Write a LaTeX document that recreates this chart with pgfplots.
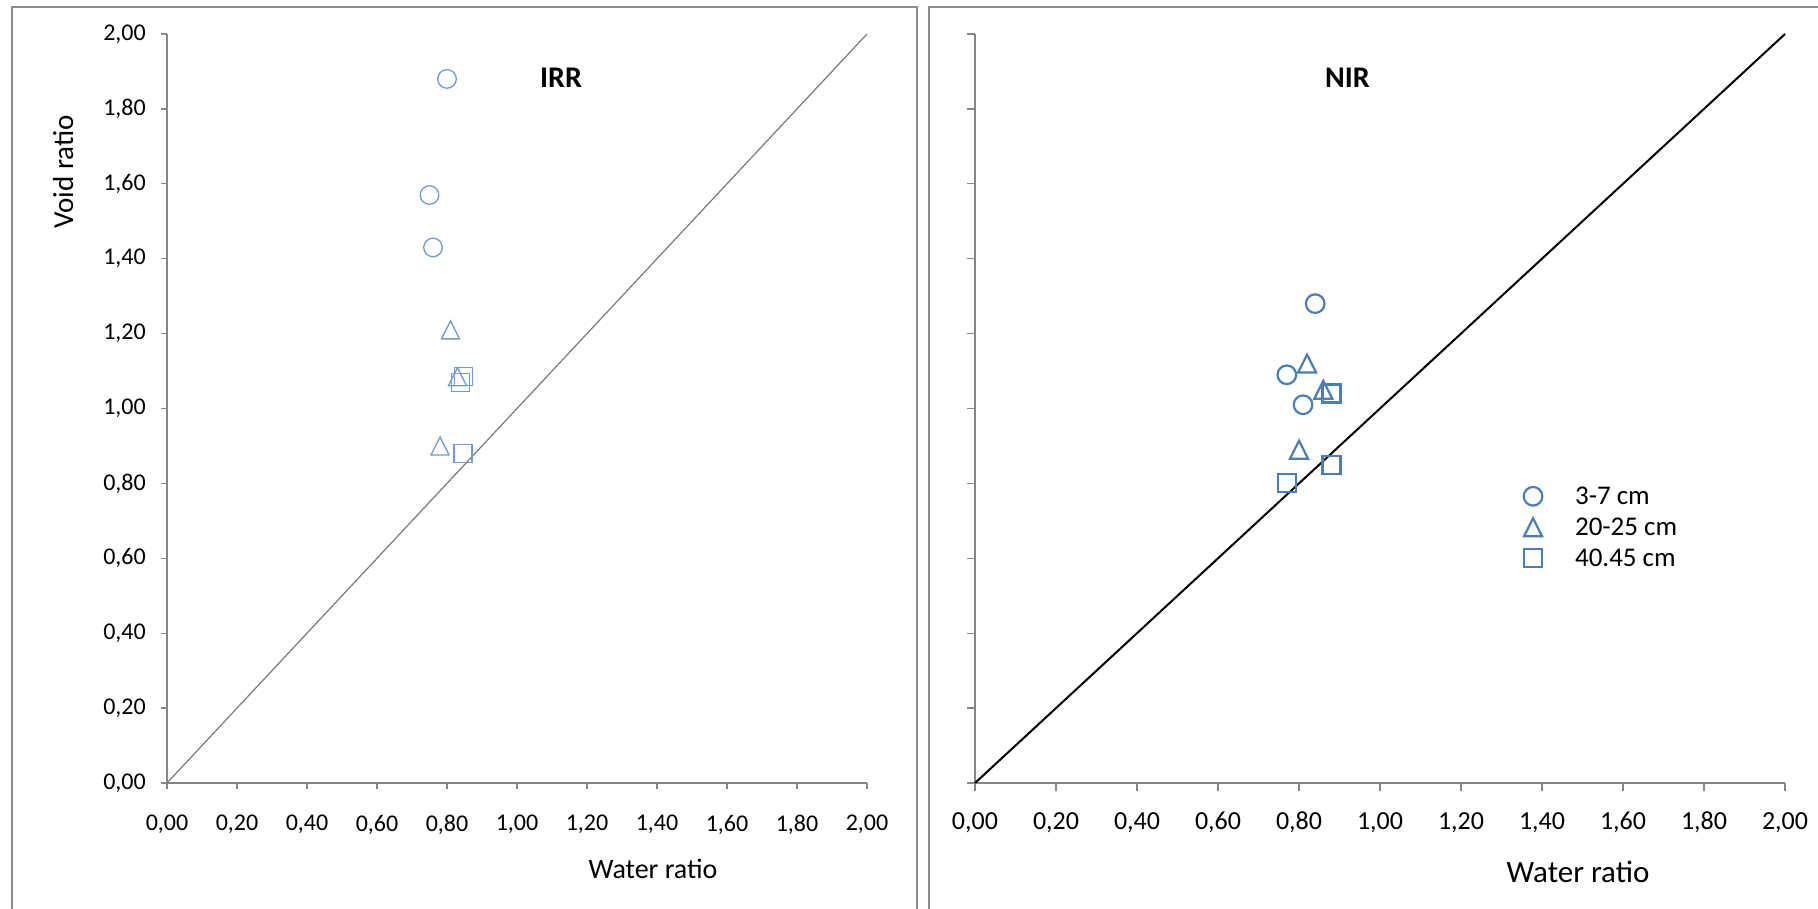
\documentclass[border=0pt]{standalone}
\usepackage{pgfplots}
\pgfplotsset{compat=1.18}
\usepackage{fontspec}
\setmainfont{Carlito}
\definecolor{framegray}{HTML}{8C8C8C}
\definecolor{axgray}{HTML}{868686}
\definecolor{mkL}{HTML}{6F9AD3}
\definecolor{mkR}{HTML}{4A7EBB}

\pgfdeclareplotmark{xtri}{%
  \pgfpathmoveto{\pgfqpoint{0pt}{9pt}}%
  \pgfpathlineto{\pgfqpoint{-9pt}{-9pt}}%
  \pgfpathlineto{\pgfqpoint{9pt}{-9pt}}%
  \pgfpathclose\pgfusepathqstroke}
\pgfdeclareplotmark{xsq}{%
  \pgfpathrectangle{\pgfqpoint{-9pt}{-9pt}}{\pgfqpoint{18pt}{18pt}}\pgfusepathqstroke}
\pgfdeclareplotmark{xcirc}{%
  \pgfpathcircle{\pgfpointorigin}{9.3pt}\pgfusepathqstroke}

\pgfplotsset{
  excel/.style={
    scale only axis, xmin=0, xmax=2, ymin=0, ymax=2,
    axis lines=left, axis line style={-, axgray, line width=1.3pt},
    xtick={0,0.2,0.4,0.6,0.8,1,1.2,1.4,1.6,1.8,2},
    ytick={0,0.2,0.4,0.6,0.8,1,1.2,1.4,1.6,1.8,2},
    tick align=outside,
    tick style={axgray, line width=1.3pt},
    /pgf/number format/fixed,
    /pgf/number format/fixed zerofill,
    /pgf/number format/precision=2,
    /pgf/number format/use comma,
    /pgf/number format/assume math mode=true,
    tick label style={inner sep=0pt},
    clip=false,
  },
  mk/.style={only marks, mark=#1,
    legend image code/.code={\draw[##1] plot coordinates {(0pt,0pt)};
      \pgfpathmoveto{\pgfqpoint{-10.5pt}{0pt}}\pgfpathlineto{\pgfqpoint{42pt}{0pt}}\pgfusepath{}}},
}

\begin{document}
\begin{tikzpicture}[x=1pt,y=1pt]
\useasboundingbox (0,0) rectangle (1818,908);
\clip (0,0) rectangle (1818,908);
% chart frames
\draw[framegray, line width=2.5pt] (12,-20) -- (12,901) -- (917,901) -- (917,-20);
\draw[framegray, line width=2.5pt] (929,-20) -- (929,901) -- (1840,901);

% ---------- left panel (IRR)
\begin{axis}[excel, at={(167pt,125pt)}, anchor=south west,
  width=700pt, height=749pt,
  major tick length=6pt,
  tick label style={font=\fontsize{24}{26}\selectfont},
  xticklabel shift=26pt, yticklabel shift=15pt]
\addplot[mk=xcirc, mkL, line width=1.3pt] coordinates {(0.80,1.88) (0.75,1.57) (0.76,1.43)};
\addplot[mk=xtri, mkL, line width=1.3pt] coordinates {(0.81,1.21) (0.83,1.085) (0.78,0.90)};
\addplot[mk=xsq, mkL, line width=1.3pt] coordinates {(0.847,1.085) (0.839,1.069) (0.846,0.879)};
\addplot[axgray!90!black, line width=1.2pt, forget plot] coordinates {(0,0) (2,2)};
\end{axis}

% ---------- right panel (NIR)
\begin{axis}[excel, at={(975pt,125pt)}, anchor=south west,
  width=810pt, height=749pt,
  major tick length=8pt,
  tick label style={font=\fontsize{26}{28}\selectfont},
  xticklabel shift=21pt, yticklabels={},
  legend style={draw=none, fill=none, inner sep=0pt, outer sep=0pt,
    at={(axis cs:1.352,0.791)}, anchor=north west,
    font=\fontsize{27}{29}\selectfont,
    nodes={inner sep=0pt}, row sep=12pt, column sep=0pt},
  legend cell align=left]
\addplot[mk=xcirc, mkR, line width=2.2pt] coordinates {(0.84,1.28) (0.77,1.09) (0.81,1.01)};
\addlegendentry{3-7 cm}
\addplot[mk=xtri, mkR, line width=2.2pt] coordinates {(0.82,1.12) (0.86,1.05) (0.80,0.89)};
\addlegendentry{20-25 cm}
\addplot[mk=xsq, mkR, line width=2.2pt] coordinates {(0.88,1.04) (0.88,0.85) (0.77,0.80)};
\addlegendentry{40.45 cm}
\addplot[black, line width=2pt, forget plot] coordinates {(0,0) (2,2)};
\end{axis}

% titles and axis titles
\node[anchor=base, font=\fontsize{30}{32}\selectfont\bfseries] at (561,820) {IRR};
\node[anchor=base, font=\fontsize{30}{32}\selectfont\bfseries] at (1347.5,820) {NIR};
\node[anchor=base, font=\fontsize{28}{30}\selectfont] at (653,30) {Water ratio};
\node[anchor=base, font=\fontsize{31}{33}\selectfont] at (1578,26) {Water ratio};
\node[anchor=base, rotate=90, font=\fontsize{29}{31}\selectfont] at (73,736) {Void ratio};
\end{tikzpicture}
\end{document}
